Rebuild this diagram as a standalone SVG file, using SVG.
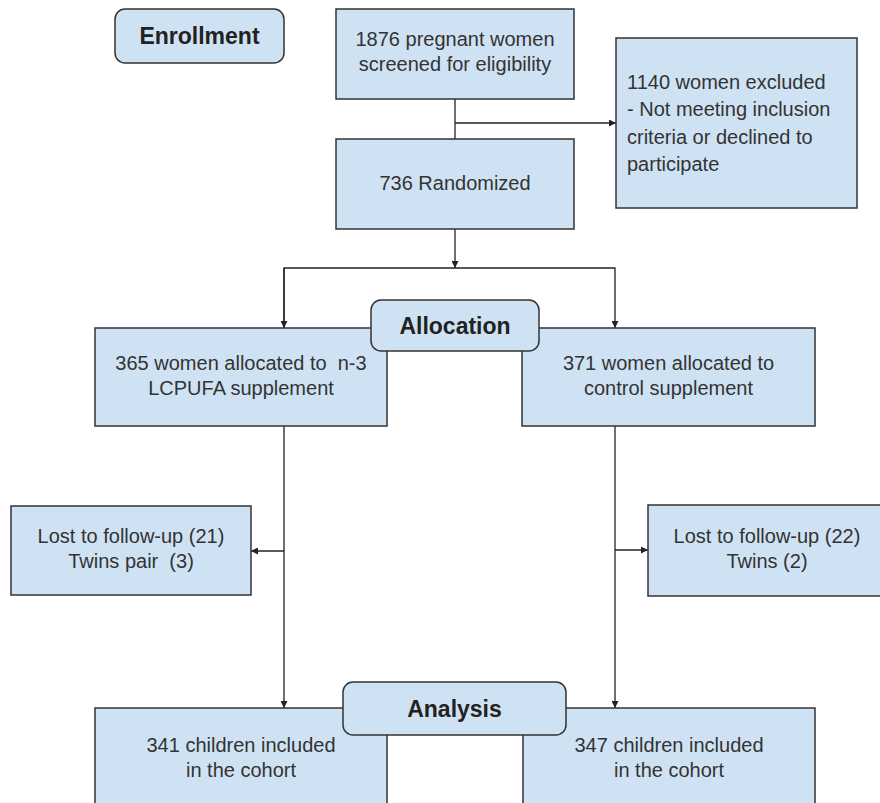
<svg xmlns="http://www.w3.org/2000/svg" width="880" height="803" viewBox="0 0 880 803">
<style>
.box{fill:#cfe2f3;stroke:#333;stroke-width:1.5}
.t{font-family:"Liberation Sans",Arial,sans-serif;font-size:20px;fill:#333;text-anchor:middle}
.tl{font-family:"Liberation Sans",Arial,sans-serif;font-size:20px;fill:#333}
.h{font-family:"Liberation Sans",Arial,sans-serif;font-size:23px;font-weight:bold;fill:#222;text-anchor:middle}
.c{fill:none;stroke:#222;stroke-width:1.3}
</style>
<defs>
<marker id="ah" viewBox="0 0 10 10" refX="10" refY="5" markerWidth="7" markerHeight="7" markerUnits="userSpaceOnUse" orient="auto">
<path d="M0,0 L10,5 L0,10 z" fill="#222"/>
</marker>
</defs>
<rect width="880" height="803" fill="#fff"/>
<g id="connectors">
<line class="c" x1="455" y1="99" x2="455" y2="139"/>
<line class="c" x1="455" y1="123" x2="616" y2="123" marker-end="url(#ah)"/>
<line class="c" x1="455" y1="229" x2="455" y2="268" marker-end="url(#ah)"/>
<polyline class="c" points="284,328 284,268 615,268 615,328" marker-end="url(#ah)"/>
<line class="c" x1="284" y1="268" x2="284" y2="328" marker-end="url(#ah)"/>
<line class="c" x1="284" y1="426" x2="284" y2="708" marker-end="url(#ah)"/>
<line class="c" x1="615" y1="426" x2="615" y2="708" marker-end="url(#ah)"/>
<line class="c" x1="284" y1="551" x2="251" y2="551" marker-end="url(#ah)"/>
<line class="c" x1="615" y1="550" x2="648" y2="550" marker-end="url(#ah)"/>
</g>
<g id="enrollment">
<rect class="box" x="115" y="9" width="169" height="54" rx="10"/>
<text class="h" x="199.5" y="44">Enrollment</text>
</g>
<g id="screened">
<rect class="box" x="336" y="9" width="238" height="90"/>
<text class="t" x="455" y="46">1876 pregnant women</text>
<text class="t" x="455" y="71">screened for eligibility</text>
</g>
<g id="excluded">
<rect class="box" x="616" y="38" width="241" height="170"/>
<text class="tl" x="627" y="89">1140 women excluded</text>
<text class="tl" x="627" y="116">- Not meeting inclusion</text>
<text class="tl" x="627" y="144">criteria or declined to</text>
<text class="tl" x="627" y="171">participate</text>
</g>
<g id="randomized">
<rect class="box" x="336" y="139" width="238" height="90"/>
<text class="t" x="455" y="190">736 Randomized</text>
</g>
<g id="n3">
<rect class="box" x="95" y="328" width="292" height="98"/>
<text class="t" x="241" y="370" xml:space="preserve">365 women allocated to  n-3</text>
<text class="t" x="241" y="395">LCPUFA supplement</text>
</g>
<g id="control">
<rect class="box" x="522" y="328" width="293" height="98"/>
<text class="t" x="668.5" y="370">371 women allocated to</text>
<text class="t" x="668.5" y="395">control supplement</text>
</g>
<g id="allocation">
<rect class="box" x="371" y="300" width="168" height="51" rx="10"/>
<text class="h" x="455" y="334">Allocation</text>
</g>
<g id="lost1">
<rect class="box" x="11" y="506" width="240" height="89"/>
<text class="t" x="131" y="543">Lost to follow-up (21)</text>
<text class="t" x="131" y="568" xml:space="preserve">Twins pair  (3)</text>
</g>
<g id="lost2">
<rect class="box" x="648" y="505" width="240" height="91"/>
<text class="t" x="767" y="543">Lost to follow-up (22)</text>
<text class="t" x="767" y="568">Twins (2)</text>
</g>
<g id="cohort1">
<rect class="box" x="95" y="708" width="292" height="110"/>
<text class="t" x="241" y="752">341 children included</text>
<text class="t" x="241" y="777">in the cohort</text>
</g>
<g id="cohort2">
<rect class="box" x="523" y="708" width="292" height="110"/>
<text class="t" x="669" y="752">347 children included</text>
<text class="t" x="669" y="777">in the cohort</text>
</g>
<g id="analysis">
<rect class="box" x="343" y="682" width="223" height="53" rx="10"/>
<text class="h" x="454.5" y="717">Analysis</text>
</g>
</svg>
